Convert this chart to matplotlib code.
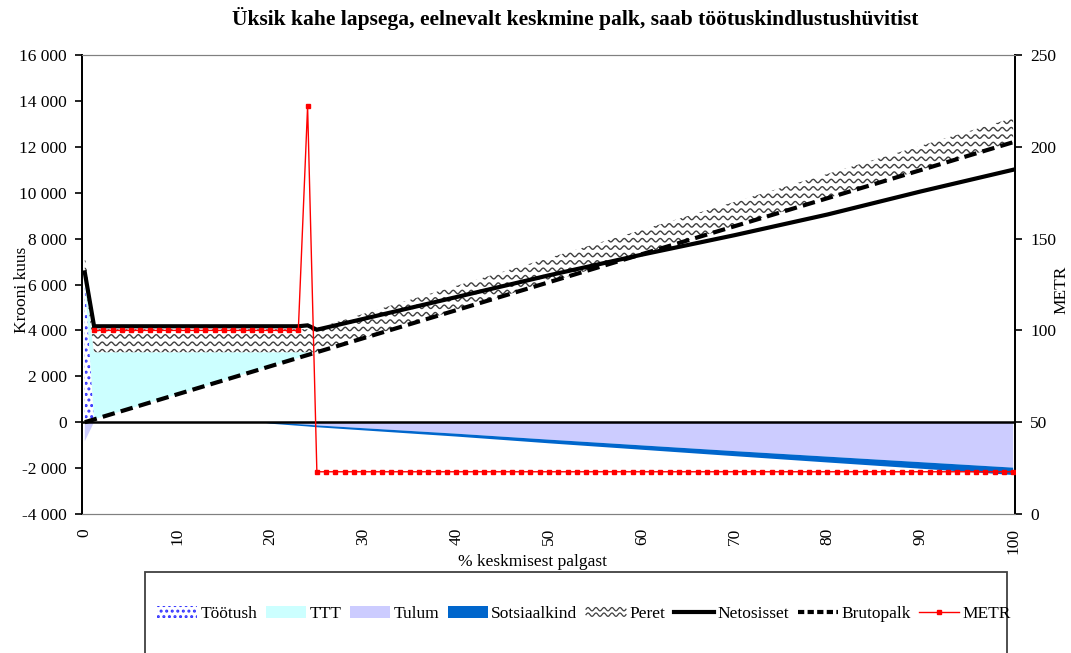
import numpy as np
import matplotlib
matplotlib.use("Agg")
import matplotlib.pyplot as plt
from matplotlib.patches import Patch, Rectangle
from matplotlib.lines import Line2D
from matplotlib.legend_handler import HandlerBase
from matplotlib.ticker import FuncFormatter, FixedLocator

plt.rcParams['font.family'] = ['Liberation Serif', 'DejaVu Serif']
plt.rcParams['hatch.linewidth'] = 1.4

title = "Üksik kahe lapsega, eelnevalt keskmine palk, saab töötuskindlustushüvitist"
xlabel = "% keskmisest palgast"
ylabel_left = "Krooni kuus"
ylabel_right = "METR"

# ---- data ----
x_area = [0, 1, 5, 10, 15, 19, 20, 24, 25, 30, 40, 50, 60, 70, 80, 90, 100]
brutopalk_area = [0, 122, 610, 1220, 1830, 2318, 2440, 2928, 3050, 3660, 4880, 6100, 7320, 8540, 9760, 10980, 12200]
tootush = [6250, 0, 0, 0, 0, 0, 0, 0, 0, 0, 0, 0, 0, 0, 0, 0, 0]
ttt = [0, 2928, 2440, 1830, 1220, 732, 610, 122, 0, 0, 0, 0, 0, 0, 0, 0, 0]
peret = [1050, 1000, 1000, 1000, 1000, 1000, 1000, 1000, 1050, 1060, 1060, 1060, 1060, 1060, 1060, 1060, 1060]
tulum = [-830, 0, 0, 0, 0, 0, -10, -110, -140, -260, -500, -760, -1010, -1260, -1500, -1740, -1980]
sotsiaalkind = [0, 0, 0, 0, 0, 0, -55, -75, -80, -95, -125, -160, -190, -220, -255, -285, -320]

x_net = [0, 1, 23, 24, 25, 30, 40, 50, 60, 70, 80, 90, 100]
netosisset = [6530, 4180, 4180, 4220, 4030, 4500, 5450, 6400, 7300, 8150, 9050, 10050, 11000]

x_brutto = [0, 100]
brutopalk = [0, 12200]

x_metr = list(range(1, 101))
metr = [100] * 23 + [222] + [23] * 76

x_ticks = [0, 10, 20, 30, 40, 50, 60, 70, 80, 90, 100]
y_ticks_left = [-4000, -2000, 0, 2000, 4000, 6000, 8000, 10000, 12000, 14000, 16000]
y_ticks_right = [0, 50, 100, 150, 200, 250]

# colours
c_ttt = '#ccffff'
c_tulum = '#ccccff'
c_sots = '#0066cc'
c_dots = '#3333ff'
c_wave = '#404040'

W, H = 1071, 653
fig = plt.figure(figsize=(W / 100, H / 100), dpi=100)
ax_l, ax_r, ax_t, ax_b = 82, 1015, 55, 514
ax = fig.add_axes([ax_l / W, 1 - ax_b / H, (ax_r - ax_l) / W, (ax_b - ax_t) / H])
ax2 = ax.twinx()

xa = np.array(x_area, dtype=float)
base = np.array(brutopalk_area, dtype=float)
l1 = base + np.array(tootush)
l2 = l1 + np.array(ttt)
l3 = l2 + np.array(peret)
n1 = np.array(tulum, dtype=float)
n2 = n1 + np.array(sotsiaalkind)

ax.fill_between(xa, base, l1, facecolor='white', edgecolor=c_dots, hatch='...', linewidth=0, zorder=1)
ax.fill_between(xa, l1, l2, facecolor=c_ttt, linewidth=0, zorder=1)
peret_poly = ax.fill_between(xa, l2, l3, facecolor='white', linewidth=0, zorder=1)
ax.fill_between(xa, 0, n1, facecolor=c_tulum, linewidth=0, zorder=1)
ax.fill_between(xa, n1, n2, facecolor=c_sots, linewidth=0, zorder=1)

# wavy texture for "Peret", clipped to its polygon
wpx, hpx = ax_r - ax_l, ax_b - ax_t
tt = np.linspace(0, wpx, 4000)
spacing = 7.4
for k in range(int(hpx / spacing) + 2):
    yy = k * spacing + 1.7 * np.sin(2 * np.pi * tt / 9.0)
    ln = Line2D(tt / wpx, yy / hpx, transform=ax.transAxes, color=c_wave, lw=1.0, zorder=1.5)
    ax.add_line(ln)
    ln.set_clip_path(peret_poly.get_paths()[0], ax.transData)

ax.axhline(0, color='black', lw=1.8, zorder=2)
ax.plot(x_brutto, brutopalk, color='black', lw=3.0, linestyle=(0, (3.0, 1.5)), zorder=3)
ax.plot(x_net, netosisset, color='black', lw=3.0, solid_joinstyle='miter', zorder=4)

ax2.plot(x_metr, metr, color='#ff0000', lw=1.0, marker='s', markersize=2.6, zorder=5)

# axes styling
ax.set_xlim(-0.3, 100.2)
ax.set_ylim(-4000, 16000)
ax2.set_ylim(0, 250)
ax.yaxis.set_major_locator(FixedLocator(y_ticks_left))
ax2.yaxis.set_major_locator(FixedLocator(y_ticks_right))
ax.yaxis.set_major_formatter(FuncFormatter(lambda v, p: f"{int(v):,}".replace(",", " ")))
ax.set_xticks(x_ticks)
ax.set_xticklabels([str(v) for v in x_ticks], rotation=90, fontsize=12.5)
ax.tick_params(axis='x', length=0, pad=10)
ax.tick_params(axis='y', direction='out', length=5, width=1.2, labelsize=12.5, pad=6)
ax2.tick_params(axis='y', direction='out', length=5, width=1.2, labelsize=12.5, pad=6)
for a in (ax, ax2):
    a.spines['top'].set_color('#808080')
    a.spines['bottom'].set_color('#808080')
    a.spines['left'].set_color('black')
    a.spines['right'].set_color('black')
    a.spines['left'].set_linewidth(1.3)
    a.spines['right'].set_linewidth(1.3)
ax2.patch.set_visible(False)

fig.text(533 / W, 1 - 562 / H, xlabel, ha='center', va='center', fontsize=12.5)
fig.text(22 / W, 1 - 290 / H, ylabel_left, ha='center', va='center', rotation=90, fontsize=12.5)
fig.text(1061 / W, 1 - 290 / H, ylabel_right, ha='center', va='center', rotation=90, fontsize=12.5)

fig.text(575 / W, 1 - 18 / H, title, ha='center', va='center', fontsize=15.5, fontweight='bold')

# legend frame
fig.patches.append(Rectangle((145 / W, 1 - 660 / H), (1007 - 145) / W, (660 - 572) / H,
                             transform=fig.transFigure, facecolor='white', edgecolor='#404040', lw=1.3, zorder=0))


class WaveHandler(HandlerBase):
    def create_artists(self, legend, orig_handle, xdescent, ydescent, width, height, fontsize, trans):
        arts = []
        t = np.linspace(0, width, 80)
        for k in range(2):
            y = height * (0.28 + 0.45 * k) + 1.2 * np.sin(2 * np.pi * t / (width / 5.0))
            arts.append(Line2D(t - xdescent, y - ydescent, color=c_wave, lw=0.9, transform=trans))
        return arts


handles = [
    Patch(facecolor='white', edgecolor=c_dots, hatch='...', linewidth=0),
    Patch(facecolor=c_ttt, linewidth=0),
    Patch(facecolor=c_tulum, linewidth=0),
    Patch(facecolor=c_sots, linewidth=0),
    Patch(facecolor='white', linewidth=0),
    Line2D([], [], color='black', lw=3.0),
    Line2D([], [], color='black', lw=3.0, linestyle=(0, (1.5, 0.8))),
    Line2D([], [], color='#ff0000', lw=1.0, marker='s', markersize=2.6),
]
labels = ["Töötush", "TTT", "Tulum", "Sotsiaalkind", "Peret", "Netosisset", "Brutopalk", "METR"]
leg = fig.legend(handles, labels, loc='center', bbox_to_anchor=(584 / W, 1 - 614 / H), ncol=8,
                 frameon=False, fontsize=12.5, handlelength=2.3, handletextpad=0.2, columnspacing=0.5,
                 handler_map={handles[4]: WaveHandler()})

fig.savefig("out.png", dpi=100)
